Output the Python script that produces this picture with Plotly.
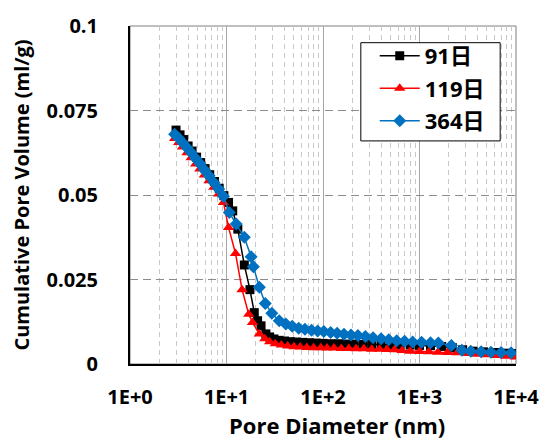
import plotly.graph_objects as go

# ---- data ----
x_91 = [3.0, 3.3, 3.6, 4.0, 4.4, 4.9, 5.4, 6.0, 6.7, 7.5, 8.4, 9.4, 10.5, 11.6, 13.1,
        15.3, 17.5, 19.4, 21.0, 22.8, 25.6, 28, 31, 35, 40, 46, 53, 62, 72, 85, 100,
        120, 145, 175, 210, 260, 320, 400, 500, 630, 800, 1000, 1300, 1700, 2200,
        2800, 3600, 4600, 6000, 7800, 10000]
y_91 = [0.0692, 0.0678, 0.0664, 0.0645, 0.0630, 0.0612, 0.0596, 0.0578, 0.0560, 0.0540,
        0.0520, 0.0498, 0.0478, 0.0453, 0.0399, 0.0293, 0.0220, 0.0152, 0.0128, 0.0113,
        0.0089, 0.0080, 0.0074, 0.0070, 0.0068, 0.0066, 0.0065, 0.0064, 0.0063, 0.0062,
        0.0061, 0.0060, 0.0060, 0.0059, 0.0059, 0.0058, 0.0058, 0.0057, 0.0057, 0.0056,
        0.0056, 0.0055, 0.0054, 0.0052, 0.0048, 0.0042, 0.0038, 0.0036, 0.0034, 0.0032,
        0.0031]

x_119 = [2.9, 3.2, 3.5, 3.9, 4.3, 4.8, 5.3, 5.9, 6.6, 7.4, 8.3, 9.3, 10.5, 12.4, 14.5,
         17.0, 18.6, 21.9, 25, 28, 32, 37, 43, 50, 58, 68, 80, 95, 110, 130, 155, 185,
         220, 265, 320, 385, 460, 550, 660, 800, 1000, 1250, 1550, 1950, 2450, 3100,
         3900, 4900, 6200, 7800, 9800]
y_119 = [0.0667, 0.0655, 0.0642, 0.0625, 0.0610, 0.0592, 0.0577, 0.0559, 0.0542, 0.0523,
         0.0503, 0.0478, 0.0404, 0.0327, 0.0220, 0.0147, 0.0123, 0.0089, 0.0075, 0.0066,
         0.0060, 0.0056, 0.0053, 0.0051, 0.0050, 0.0049, 0.0048, 0.0048, 0.0047, 0.0047,
         0.0046, 0.0046, 0.0045, 0.0045, 0.0044, 0.0044, 0.0043, 0.0042, 0.0040, 0.0038,
         0.0037, 0.0036, 0.0035, 0.0034, 0.0033, 0.0031, 0.0029, 0.0027, 0.0025, 0.0023,
         0.0021]

x_364 = [2.9, 3.2, 3.5, 3.9, 4.3, 4.8, 5.3, 5.9, 6.6, 7.4, 8.3, 9.3, 10.7, 12.6, 15.3,
         18.0, 19.0, 21.9, 25.2, 29.5, 35.2, 41.2, 48, 56, 65, 76, 88, 102, 120, 140,
         165, 195, 230, 275, 330, 400, 480, 580, 700, 850, 1050, 1300, 1570, 2140,
         2750, 3400, 4360, 5500, 7000, 8900]
y_364 = [0.0680, 0.0668, 0.0655, 0.0640, 0.0626, 0.0608, 0.0593, 0.0575, 0.0557, 0.0537,
         0.0518, 0.0496, 0.0448, 0.0414, 0.0375, 0.0317, 0.0288, 0.0227, 0.0179, 0.0150,
         0.0128, 0.0118, 0.0112, 0.0106, 0.0103, 0.0100, 0.0098, 0.0096, 0.0093, 0.0091,
         0.0088, 0.0086, 0.0084, 0.0081, 0.0078, 0.0075, 0.0072, 0.0069, 0.0067, 0.0065,
         0.0064, 0.0063, 0.0062, 0.0055, 0.0041, 0.0038, 0.0036, 0.0035, 0.0034, 0.0033]

series_names = ["91日", "119日", "364日"]
x_ticks = [1, 10, 100, 1000, 10000]
x_tick_labels = ["1E+0", "1E+1", "1E+2", "1E+3", "1E+4"]
y_ticks = [0, 0.025, 0.05, 0.075, 0.1]
y_tick_labels = ["0", "0.025", "0.05", "0.075", "0.1"]
x_title = "Pore Diameter (nm)"
y_title = "Cumulative Pore Volume (ml/g)"

FONT = "'Open Sans', 'Noto Sans CJK JP', sans-serif"

fig = go.Figure()
styles = [
    ("#000000", "square", 9),
    ("#FF0000", "triangle-up", 10),
    ("#0070C0", "diamond", 10),
]
for (xs, ys, name, (col, sym, sz)) in zip([x_91, x_119, x_364], [y_91, y_119, y_364],
                                          series_names, styles):
    fig.add_trace(go.Scatter(
        x=xs, y=ys, name=name, mode="lines+markers", legendgroup=name,
        line=dict(color=col, width=1.5),
        marker=dict(symbol=sym, size=sz, color=col, line=dict(width=0)),
    ))

fig.update_layout(
    width=551, height=443,
    margin=dict(l=130, r=33, t=20, b=79),
    paper_bgcolor="white", plot_bgcolor="white",
    font=dict(family=FONT, size=20, color="black"),
    showlegend=True,
    legend=dict(
        x=0.634, y=0.9738, xanchor="left", yanchor="top",
        bgcolor="rgba(0,0,0,0)", borderwidth=0,
        font=dict(family=FONT, size=22, color="black", weight="bold"),
        tracegroupgap=1, itemwidth=40,
    ),
    shapes=[
        dict(type="rect", xref="paper", yref="paper", x0=0, x1=1, y0=0, y1=1,
             line=dict(color="#7f7f7f", width=1), layer="below"),
        # legend frame
        dict(type="rect", xref="paper", yref="paper", x0=0.598, x1=0.959, y0=0.66, y1=0.9506,
             line=dict(color="black", width=1), fillcolor="white", layer="above"),
    ],
    annotations=[
        dict(text=x_title, xref="paper", yref="paper", x=0.5361, y=-0.181,
             xanchor="center", yanchor="middle", showarrow=False,
             font=dict(family=FONT, size=22, weight="bold", color="black")),
    ],
)

fig.update_xaxes(
    type="log", range=[0, 4],
    tickmode="array", tickvals=x_ticks, ticktext=x_tick_labels,
    tickfont=dict(family=FONT, size=20, weight="bold"),
    ticklabelstandoff=14,
    showline=True, linecolor="black", linewidth=2,
    showgrid=True, gridcolor="#a6a6a6", gridwidth=1.2,
    minor=dict(dtick="D1", showgrid=True, gridcolor="#c8c8c8", griddash="5px,4px",
               gridwidth=1.2, ticks=""),
    zeroline=False, ticks="",
)
fig.update_yaxes(
    range=[0, 0.1],
    tickmode="array", tickvals=y_ticks, ticktext=y_tick_labels,
    tickfont=dict(family=FONT, size=20, weight="bold"),
    ticklabelstandoff=26,
    showline=True, linecolor="black", linewidth=2,
    showgrid=True, gridcolor="#8c8c8c", gridwidth=1, griddash="8px,5px",
    zeroline=False, ticks="",
    title=dict(text=y_title, font=dict(family=FONT, size=20, weight="bold"), standoff=12),
)

fig.write_html("out.html")
